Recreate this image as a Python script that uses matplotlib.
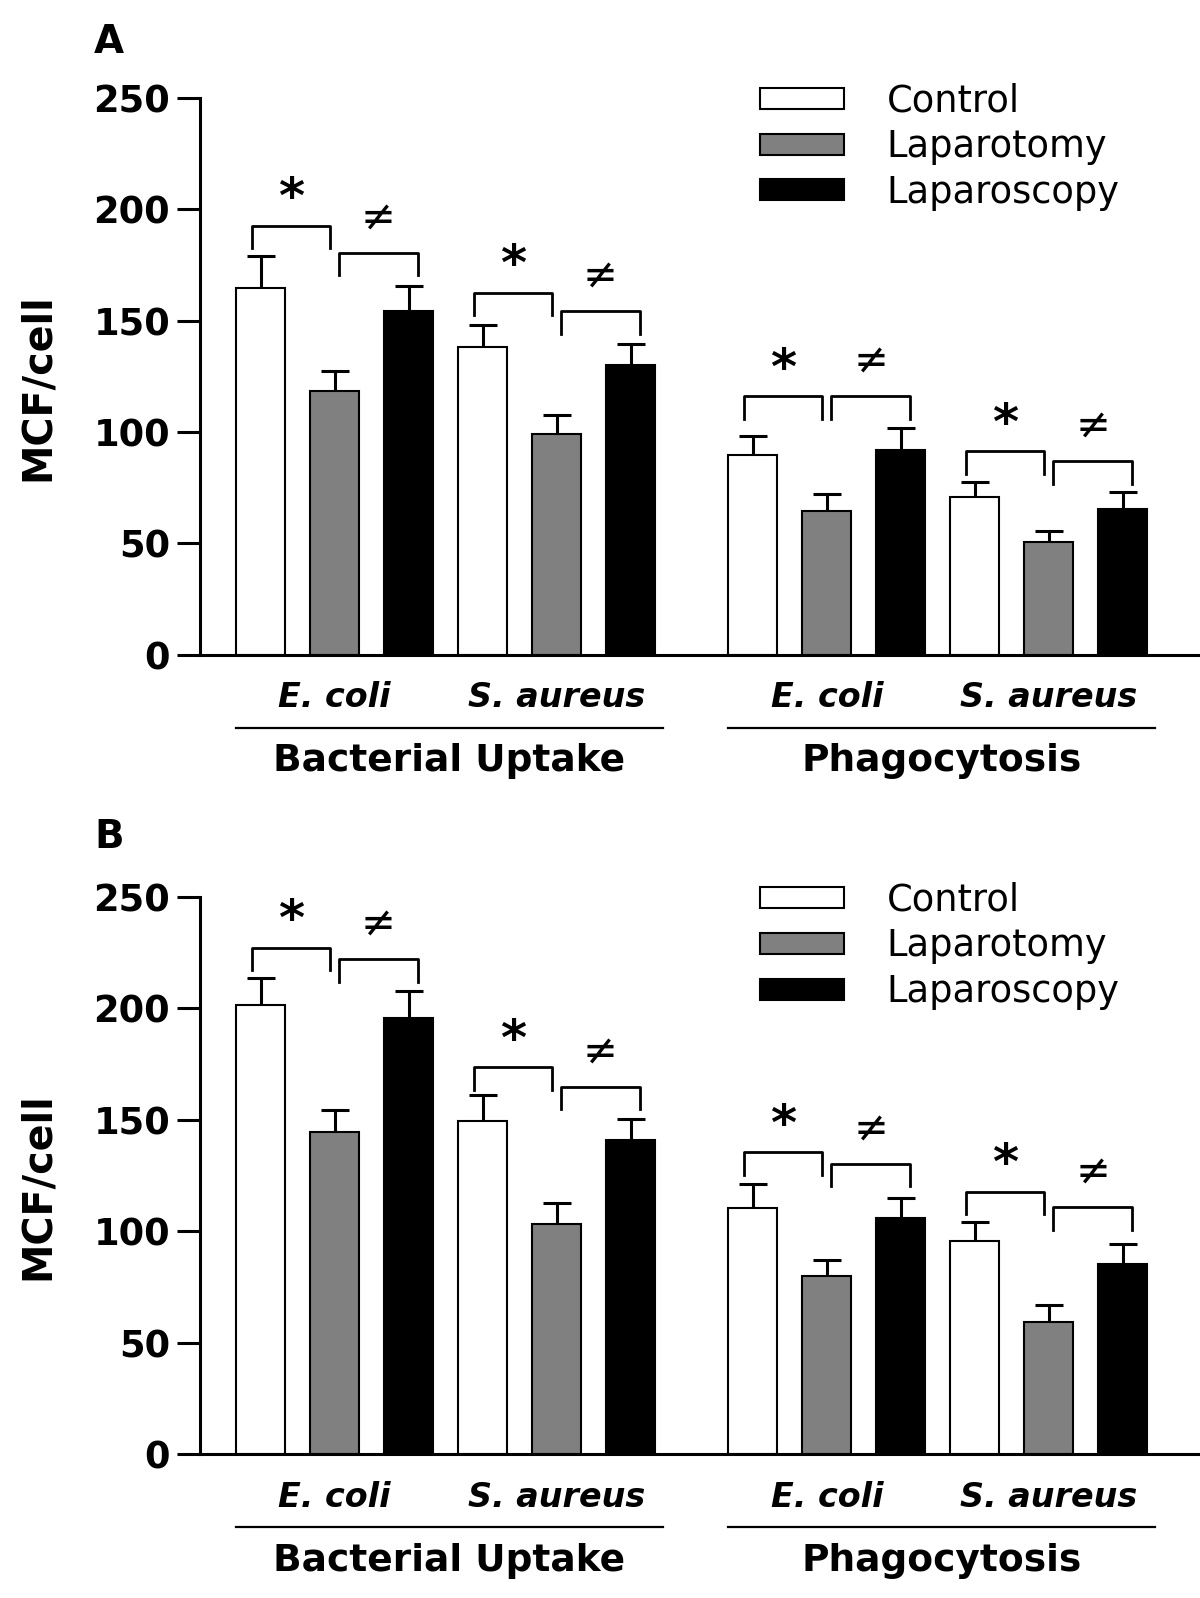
import numpy as np
import matplotlib.pyplot as plt

groups = ['E. coli', 'S. aureus', 'E. coli', 'S. aureus']
assays = ['Bacterial Uptake', 'Phagocytosis']
series = ['Control', 'Laparotomy', 'Laparoscopy']
colors = ['white', '#808080', 'black']

# panel A  (order: uptake E. coli, uptake S. aureus, phago E. coli, phago S. aureus)
a_control = [164.6, 138.1, 89.7, 70.8]
a_control_err = [14.2, 9.8, 8.5, 6.6]
a_laparotomy = [118.3, 99.1, 64.6, 50.5]
a_laparotomy_err = [9.1, 8.4, 7.3, 4.8]
a_laparoscopy = [154.3, 130.1, 92.0, 65.5]
a_laparoscopy_err = [11.2, 9.6, 9.8, 7.6]
a_star_h = [192.5, 162.6, 116.0, 91.3]
a_neq_h = [180.4, 154.1, 116.0, 86.8]

# panel B
b_control = [201.4, 149.5, 110.3, 95.7]
b_control_err = [12.5, 11.5, 10.9, 8.6]
b_laparotomy = [144.7, 103.0, 79.7, 59.1]
b_laparotomy_err = [9.6, 9.6, 7.3, 7.8]
b_laparoscopy = [195.9, 140.9, 105.7, 85.4]
b_laparoscopy_err = [12.1, 9.3, 9.4, 8.7]
b_star_h = [227.2, 173.5, 135.4, 117.8]
b_neq_h = [222.1, 164.8, 130.1, 110.7]

width = 0.66
gap = 0.65
leg = 10


def positions(s):
    g = np.arange(4)
    return g * 3 + s + np.where(g >= 2, gap, 0)


def draw_panel(ax, means, errs, star_h, neq_h):
    for s in range(3):
        x = positions(s)
        m = np.array(means[s])
        e = np.array(errs[s])
        ax.vlines(x, m, m + e, color='black', lw=2.2, zorder=1)
        ax.hlines(m + e, x - 0.19, x + 0.19, color='black', lw=2.2, zorder=1)
        ax.bar(x, m, width=width, color=colors[s], edgecolor='black',
               linewidth=1.5, label=series[s], zorder=2)

    c0, c1, c2 = positions(0), positions(1), positions(2)
    for g in range(4):
        l1, r1 = c0[g] - 0.12, c1[g] - 0.06
        l2, r2 = c1[g] + 0.06, c2[g] + 0.12
        h1, h2 = star_h[g], neq_h[g]
        ax.plot([l1, l1, r1, r1], [h1 - leg, h1, h1, h1 - leg], color='black', lw=2.0)
        ax.plot([l2, l2, r2, r2], [h2 - leg, h2, h2, h2 - leg], color='black', lw=2.0)
        ax.text((l1 + r1) / 2, h1 + 12, '*', ha='center', va='center',
                fontsize=36, fontweight='bold')
        ax.text((l2 + r2) / 2, h2 + 16, '\u2260', ha='center', va='center',
                fontsize=30)

    tr = ax.get_xaxis_transform()
    for g in range(4):
        ax.text(c1[g], -0.078, groups[g], transform=tr, ha='center', va='center',
                fontsize=24, fontweight='bold', fontstyle='italic')
    for k in range(2):
        left = c0[2 * k] - width / 2
        right = c2[2 * k + 1] + width / 2 + 0.1
        ax.plot([left, right], [-0.132, -0.132], transform=tr, clip_on=False,
                color='black', lw=1.6)
        ax.text((left + right) / 2, -0.192, assays[k], transform=tr, ha='center',
                va='center', fontsize=27, fontweight='bold')

    ax.set_xlim(-0.82, 12.66)
    ax.set_ylim(0, 250)
    ax.set_yticks(np.arange(0, 251, 50))
    ax.set_xticks([])
    for sp in ['top', 'right']:
        ax.spines[sp].set_visible(False)
    for sp in ['left', 'bottom']:
        ax.spines[sp].set_linewidth(2.2)
    ax.tick_params(axis='y', length=16.5, width=2.2, pad=5, labelsize=26.5)
    for lab in ax.get_yticklabels():
        lab.set_fontweight('bold')
    ax.set_ylabel('MCF/cell', fontsize=28.5, fontweight='bold')
    ax.yaxis.set_label_coords(-0.143, 0.48)
    ax.legend(loc='upper left', bbox_to_anchor=(0.561, 1.028), frameon=False,
              fontsize=26.5, handlelength=2.3, handleheight=0.5, handletextpad=1.15,
              labelspacing=0.24, borderpad=0, borderaxespad=0)


fig = plt.figure(figsize=(12, 15.98), dpi=100)
ax_a = fig.add_axes([0.1667, 0.5904, 0.8313, 0.3483])
ax_b = fig.add_axes([0.1667, 0.0902, 0.8313, 0.3484])

draw_panel(ax_a, [a_control, a_laparotomy, a_laparoscopy],
           [a_control_err, a_laparotomy_err, a_laparoscopy_err], a_star_h, a_neq_h)
draw_panel(ax_b, [b_control, b_laparotomy, b_laparoscopy],
           [b_control_err, b_laparotomy_err, b_laparoscopy_err], b_star_h, b_neq_h)

fig.text(94 / 1200, 1 - 42 / 1598, 'A', fontsize=28, fontweight='bold', va='center')
fig.text(94 / 1200, 1 - 837 / 1598, 'B', fontsize=28, fontweight='bold', va='center')

fig.savefig('out.png', dpi=100)
